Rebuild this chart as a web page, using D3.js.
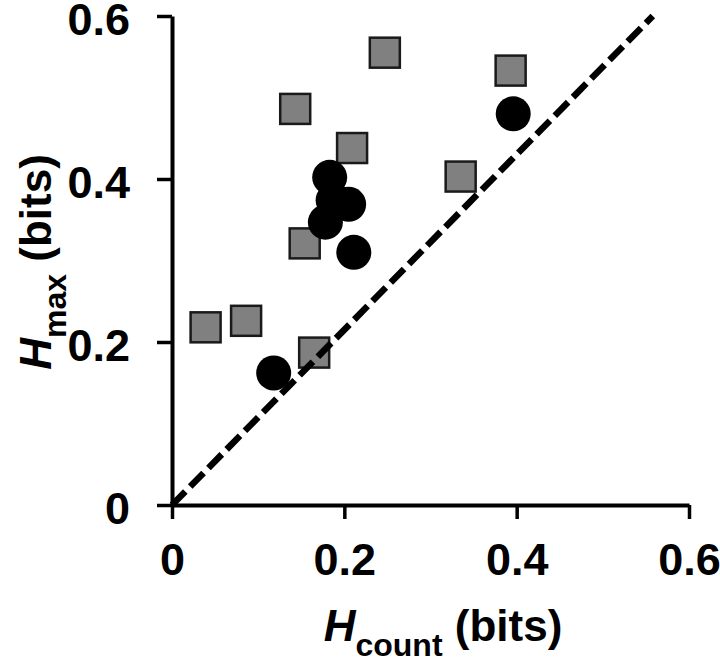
<!DOCTYPE html>
<html>
<head>
<meta charset="utf-8">
<script src="https://cdn.jsdelivr.net/npm/d3@7"></script>
<style>
  html, body { margin: 0; padding: 0; background: #fff; }
  svg { display: block; }
  text { font-family: "Liberation Sans", Arial, sans-serif; font-weight: bold; fill: #000; }
</style>
</head>
<body>
<svg id="chart" width="720" height="670"></svg>
<script>
// ---- data ----
const xTicks = [0, 0.2, 0.4, 0.6];
const yTicks = [0, 0.2, 0.4, 0.6];
const xTickLabels = ["0", "0.2", "0.4", "0.6"];
const yTickLabels = ["0", "0.2", "0.4", "0.6"];

// gray squares
const squareX = [0.247, 0.143, 0.209, 0.154, 0.039, 0.086, 0.165, 0.393, 0.335];
const squareY = [0.555, 0.486, 0.438, 0.321, 0.218, 0.226, 0.187, 0.533, 0.403];

// black circles
const circleX = [0.396, 0.118, 0.183, 0.187, 0.205, 0.178, 0.211];
const circleY = [0.480, 0.162, 0.402, 0.374, 0.369, 0.347, 0.310];

// dashed reference line (data coords)
const refLineX = [0, 0.558];
const refLineY = [0, 0.6];

const xTitleMain = "H", xTitleSub = "count", xTitleRest = " (bits)";
const yTitleMain = "H", yTitleSub = "max", yTitleRest = " (bits)";

// ---- drawing ----
const svg = d3.select("#chart");
const x = d3.scaleLinear().domain([0, 0.6]).range([172, 689]);
const y = d3.scaleLinear().domain([0, 0.6]).range([505, 16]);

// axes
const xAxis = d3.axisBottom(x).tickValues(xTicks)
  .tickFormat((d, i) => xTickLabels[i]).tickSizeInner(14).tickSizeOuter(0).tickPadding(24);
const yAxis = d3.axisLeft(y).tickValues(yTicks)
  .tickFormat((d, i) => yTickLabels[i]).tickSizeInner(15).tickSizeOuter(0).tickPadding(27);

const gx = svg.append("g").attr("transform", `translate(0,${y(0)})`).call(xAxis);
const gy = svg.append("g").attr("transform", `translate(${x(0)},0)`).call(yAxis);
[gx, gy].forEach(g => {
  g.select(".domain").attr("stroke", "#000").attr("stroke-width", 4);
  g.selectAll(".tick line").attr("stroke", "#000").attr("stroke-width", 3.5);
  g.selectAll(".tick text").attr("font-size", 45).attr("font-family", '"Liberation Sans", Arial, sans-serif').attr("font-weight", "bold").attr("fill", "#000");
});
gx.selectAll(".tick text").attr("dy", "0.71em");
gy.selectAll(".tick text").attr("dy", "0.41em");

// squares
const sq = 30;
svg.append("g").selectAll("rect").data(squareX.map((v, i) => [v, squareY[i]]))
  .join("rect")
  .attr("x", d => x(d[0]) - sq / 2)
  .attr("y", d => y(d[1]) - sq / 2)
  .attr("width", sq).attr("height", sq)
  .attr("fill", "#808080").attr("stroke", "#1a1a1a").attr("stroke-width", 2.5);

// dashed line
const line = d3.line().x(d => x(d[0])).y(d => y(d[1]));
svg.append("path")
  .datum(refLineX.map((v, i) => [v, refLineY[i]]))
  .attr("d", line)
  .attr("fill", "none").attr("stroke", "#000").attr("stroke-width", 6.5)
  .attr("stroke-dasharray", "19,7");

// circles
svg.append("g").selectAll("circle").data(circleX.map((v, i) => [v, circleY[i]]))
  .join("circle")
  .attr("cx", d => x(d[0])).attr("cy", d => y(d[1]))
  .attr("r", 17.5).attr("fill", "#000");

// x title
const xt = svg.append("text").attr("x", 443).attr("y", 641).attr("text-anchor", "middle").attr("font-size", 44);
xt.append("tspan").attr("font-style", "italic").text(xTitleMain);
xt.append("tspan").attr("font-size", 32).attr("dy", 15).text(xTitleSub);
xt.append("tspan").attr("dy", -15).text(xTitleRest);

// y title
const yt = svg.append("text").attr("transform", "translate(51,262) rotate(-90)").attr("text-anchor", "middle").attr("font-size", 44);
yt.append("tspan").attr("font-style", "italic").text(yTitleMain);
yt.append("tspan").attr("font-size", 32).attr("dy", 15).text(yTitleSub);
yt.append("tspan").attr("dy", -15).text(yTitleRest);
</script>
</body>
</html>
